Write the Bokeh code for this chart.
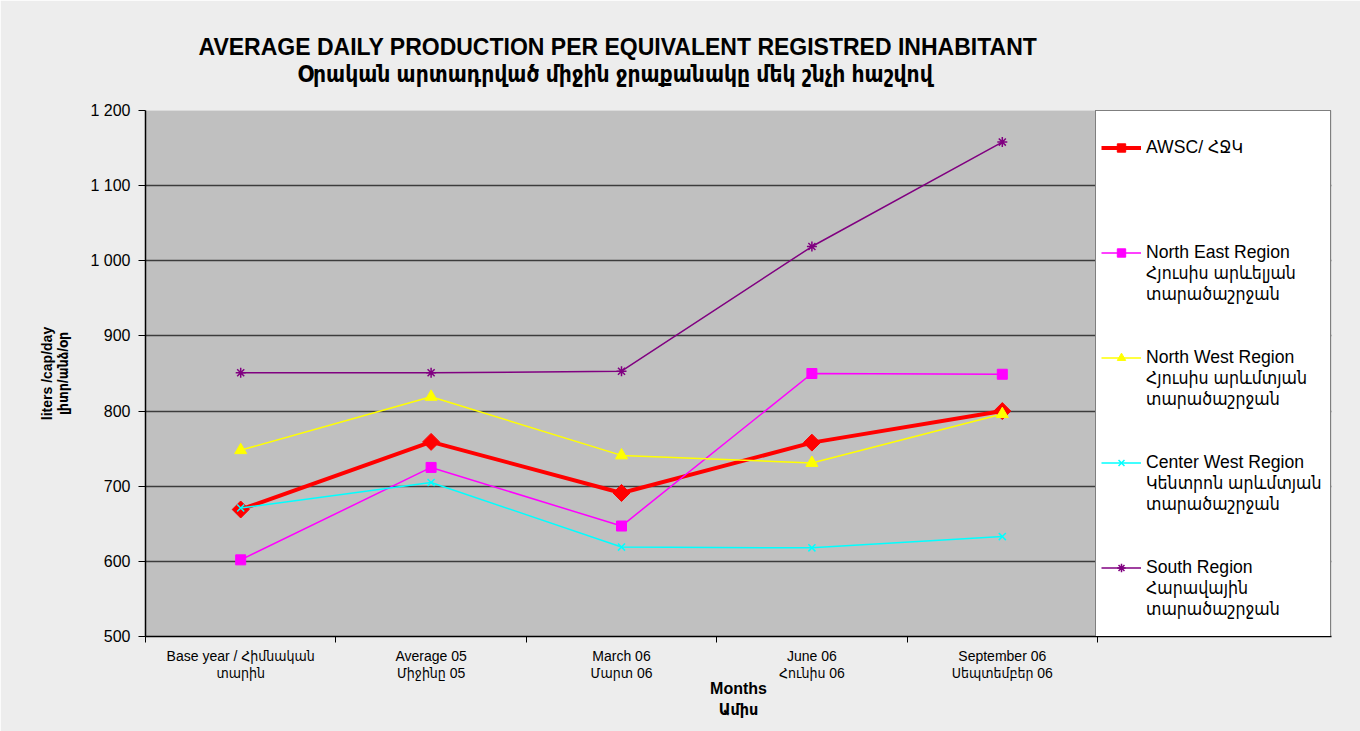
from math import pi
from bokeh.plotting import figure
from bokeh.models import Range1d, FixedTicker, Legend, LegendItem, Title
from bokeh.embed import file_html
from bokeh.resources import INLINE

categories = [
    "Base year / Հիմնական\nտարին",
    "Average 05\nՄիջինը 05",
    "March 06\nՄարտ 06",
    "June 06\nՀունիս 06",
    "September 06\nՍեպտեմբեր 06",
]
awsc = [669, 759, 691, 758, 800]
north_east = [602, 725, 647, 850, 849]
north_west = [748, 819, 741, 731, 796]
center_west = [671, 705, 619, 618, 633]
south = [851, 851, 853, 1019, 1158]
y_ticks = [500, 600, 700, 800, 900, 1000, 1100, 1200]

series_labels = [
    ["AWSC/ ՀՋԿ"],
    ["North East Region", "Հյուսիս արևելյան", "տարածաշրջան"],
    ["North West Region", "Հյուսիս արևմտյան", "տարածաշրջան"],
    ["Center West Region", "Կենտրոն արևմտյան", "տարածաշրջան"],
    ["South Region", "Հարավային", "տարածաշրջան"],
]

FONT = "'Liberation Sans', 'DejaVu Sans Condensed', 'DejaVu Sans', sans-serif"

n = len(categories)
x = [i + 0.5 for i in range(n)]
# the frame also holds the legend box to the right of the categories
x_end = n * 1186 / 952

p = figure(
    width=1360, height=731,
    x_range=Range1d(0, x_end),
    y_range=Range1d(min(y_ticks), max(y_ticks)),
    output_backend="svg", toolbar_location=None,
    min_border_left=145, min_border_right=29, min_border_top=110, min_border_bottom=95,
    background_fill_color="#c0c0c0", border_fill_color="#ededed",
    outline_line_color=None,
)
p.title.visible = False

# spacer between plot frame and the subtitle
p.add_layout(Title(text=" ", text_font_size="1px", standoff=21), "above")
p.add_layout(Title(text="Օրական արտադրված միջին ջրաքանակը մեկ  շնչի հաշվով", align="left",
                   offset=152, text_font=FONT, text_font_size="22.6px", text_font_style="bold",
                   text_color="black", standoff=0), "above")
p.add_layout(Title(text="AVERAGE DAILY PRODUCTION PER EQUIVALENT REGISTRED INHABITANT", align="left",
                   offset=53, text_font=FONT, text_font_size="23px", text_font_style="bold",
                   text_color="black", standoff=0), "above")

# grid
p.xgrid.visible = False
p.ygrid.ticker = FixedTicker(ticks=y_ticks)
p.ygrid.grid_line_color = "#3c3c3c"
p.ygrid.grid_line_width = 1.3

# y axis
p.yaxis.ticker = FixedTicker(ticks=y_ticks)
p.yaxis.major_label_overrides = {t: f"{t:,}".replace(",", " ") for t in y_ticks}
p.yaxis.major_label_text_font = FONT
p.yaxis.major_label_text_font_size = "16px"
p.yaxis.major_label_text_color = "black"
p.yaxis.major_label_standoff = 8
p.yaxis.major_tick_out = 7
p.yaxis.major_tick_in = 0
p.yaxis.minor_tick_out = 0
p.yaxis.minor_tick_in = 0
p.yaxis.axis_line_color = "black"
p.yaxis.axis_line_width = 1.5
p.yaxis.major_tick_line_color = "black"
p.yaxis.axis_label = "liters /cap/day\nլիտր/անձ/օր"
p.yaxis.axis_label_text_font = FONT
p.yaxis.axis_label_text_font_size = "14px"
p.yaxis.axis_label_text_font_style = "bold"
p.yaxis.axis_label_text_color = "black"
p.yaxis.axis_label_text_line_height = 1.0
p.yaxis.axis_label_standoff = 16

# x axis
p.xaxis.ticker = FixedTicker(ticks=x, minor_ticks=list(range(n + 1)))
p.xaxis.major_label_overrides = {xi: c for xi, c in zip(x, categories)}
p.xaxis.major_label_text_font = FONT
p.xaxis.major_label_text_font_size = "14px"
p.xaxis.major_label_text_color = "black"
p.xaxis.major_label_text_line_height = 1.1
p.xaxis.major_tick_out = 0
p.xaxis.major_tick_in = 0
p.xaxis.minor_tick_out = 6
p.xaxis.minor_tick_in = 0
p.xaxis.minor_tick_line_color = "black"
p.xaxis.axis_line_color = "black"
p.xaxis.axis_line_width = 1.5
p.xaxis.major_label_standoff = 5
p.xaxis.axis_label = "Months\nԱմիս"
p.xaxis.axis_label_text_font = FONT
p.xaxis.axis_label_text_font_size = "16px"
p.xaxis.axis_label_text_font_style = "bold"
p.xaxis.axis_label_text_color = "black"
p.xaxis.axis_label_text_line_height = 1.2
p.xaxis.axis_label_standoff = -4

styles = [
    (awsc, "#ff0000", 4, "square", 12, pi / 4),
    (north_east, "#ff00ff", 1.5, "square", 10, 0),
    (north_west, "#ffff00", 1.5, "triangle", 12, 0),
    (center_west, "#00ffff", 1.5, "x", 10, 0),
    (south, "#800080", 1.5, "asterisk", 10, 0),
]

# invisible renderer for continuation / spacer rows of the legend
blank = p.line(x=[], y=[], line_alpha=0)

ROWS_PER_ENTRY = 5
items = [LegendItem(label=" ", renderers=[blank])]
for k, ((vals, color, lw, marker, size, ang), lines) in enumerate(zip(styles, series_labels)):
    r1 = p.line(x, vals, line_color=color, line_width=lw)
    r2 = p.scatter(x, vals, marker=marker, size=size, angle=ang, fill_color=color, line_color=color,
                   line_width=1.5 if marker in ("x", "asterisk") else 1)
    items.append(LegendItem(label=lines[0], renderers=[r1, r2]))
    for extra in lines[1:]:
        items.append(LegendItem(label=extra, renderers=[blank]))
    pad = ROWS_PER_ENTRY - len(lines) if k < len(styles) - 1 else 1
    for _ in range(pad):
        items.append(LegendItem(label=" ", renderers=[blank]))

legend = Legend(items=items, location="top_right", margin=0, padding=5, spacing=0,
                glyph_width=40, glyph_height=21, label_height=21, label_standoff=5,
                label_width=179,
                label_text_font=FONT, label_text_font_size="17.6px", label_text_color="black",
                label_text_line_height=1.1,
                border_line_color="black", border_line_width=1,
                background_fill_color="white", background_fill_alpha=1.0)
p.add_layout(legend, "center")

open("out.html", "w").write(file_html(p, INLINE))
